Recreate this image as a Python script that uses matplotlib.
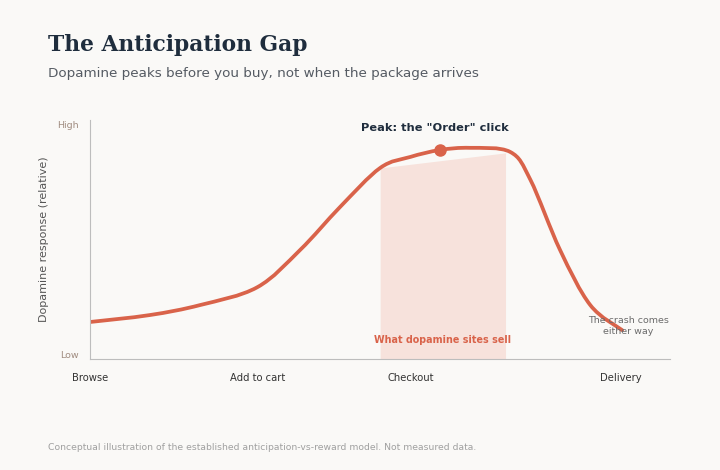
import matplotlib
matplotlib.use("Agg")
import matplotlib.pyplot as plt
from matplotlib.path import Path
from matplotlib.patches import PathPatch
import numpy as np

stage_labels = ["Browse", "Add to cart", "Checkout", "Delivery"]
stage_x = [0, 28.8, 55.2, 91.4]
curve_x = [0, 10.3, 19.0, 28.8, 36.2, 43.1, 50.0, 55.2, 60.3, 65.5, 72.4, 75.9, 81.0, 86.2, 91.7]
curve_y = [0.155, 0.184, 0.226, 0.30, 0.456, 0.636, 0.799, 0.845, 0.874, 0.883, 0.866, 0.749, 0.456, 0.226, 0.121]
peak = (60.3, 0.874)
shade_x = [50.0, 71.6]
shade_top = [0.799, 0.862]

bg = "#faf9f7"
red = "#d9634a"
fig = plt.figure(figsize=(7.2, 4.7), dpi=100, facecolor=bg)
ax = fig.add_axes([0.125, 0.236, 0.806, 0.509], facecolor=bg)
ax.set_xlim(0, 100)
ax.set_ylim(0, 1)
ax.fill_between(shade_x, [0, 0], shade_top, color="#f7e2dc", lw=0)

# smooth cubic Bezier path through the read points (Catmull-Rom control points)
P = np.column_stack([curve_x, curve_y])
verts = [P[0]]
codes = [Path.MOVETO]
for i in range(len(P) - 1):
    p0 = P[i - 1] if i > 0 else P[i]
    p1, p2 = P[i], P[i + 1]
    p3 = P[i + 2] if i + 2 < len(P) else P[i + 1]
    c1 = p1 + (p2 - p0) / 6
    c2 = p2 - (p3 - p1) / 6
    verts += [c1, c2, p2]
    codes += [Path.CURVE4] * 3
ax.add_patch(PathPatch(Path(verts, codes), fill=False, edgecolor=red, lw=2.7,
                       capstyle="round", joinstyle="round"))
ax.plot(*peak, "o", color=red, ms=8)
ax.text(59.5, 0.965, 'Peak: the "Order" click', ha="center", va="center", fontsize=8.2,
        fontweight="bold", color="#1f2d3d")
ax.text(60.8, 0.08, "What dopamine sites sell", ha="center", va="center", fontsize=6.9,
        fontweight="bold", color=red)
ax.text(92.8, 0.14, "The crash comes\neither way", ha="center", va="center", fontsize=6.8,
        color="#6b6b6b", linespacing=1.3)
ax.set_xticks(stage_x)
ax.set_xticklabels(stage_labels, fontsize=7.2, color="#333333")
ax.tick_params(axis="x", length=0, pad=10)
ax.set_yticks([0.02, 0.98])
ax.set_yticklabels(["Low", "High"], fontsize=6.8, color="#a08c80")
ax.tick_params(axis="y", length=0, pad=8)
ax.set_ylabel("Dopamine response (relative)", fontsize=8, color="#555555", labelpad=6)
for s in ["top", "right"]:
    ax.spines[s].set_visible(False)
for s in ["left", "bottom"]:
    ax.spines[s].set_color("#bdbdbd")
fig.text(48/720, 1-45/470, "The Anticipation Gap", fontsize=15.7, fontweight="bold",
         family="DejaVu Serif", color="#1f2d3d", va="center")
fig.text(48/720, 1-73/470, "Dopamine peaks before you buy, not when the package arrives",
         fontsize=9.7, color="#555b63", va="center")
fig.text(48/720, 1-448/470, "Conceptual illustration of the established anticipation-vs-reward model. Not measured data.",
         fontsize=6.7, color="#a0a0a0", va="center")
fig.savefig("out.png", dpi=100, facecolor=bg)
